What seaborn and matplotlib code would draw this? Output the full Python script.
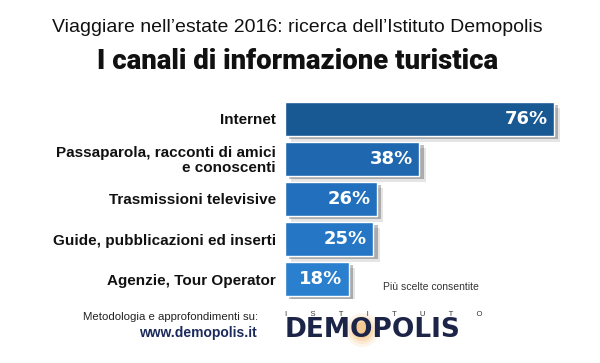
import matplotlib
matplotlib.use('Agg')
import matplotlib.pyplot as plt
import matplotlib.patheffects as pe
from matplotlib.patches import Ellipse
from matplotlib.transforms import IdentityTransform
import seaborn as sns
import pandas as pd

categories = ["Internet",
              "Passaparola, racconti di amici\ne conoscenti",
              "Trasmissioni televisive",
              "Guide, pubblicazioni ed inserti",
              "Agenzie, Tour Operator"]
values = [76, 38, 26, 25, 18]
value_labels = ["76%", "38%", "26%", "25%", "18%"]
bar_colors = ["#185893", "#1f68b0", "#2270bd", "#2577c6", "#2a7fcf"]

subtitle = "Viaggiare nell\u2019estate 2016: ricerca dell\u2019Istituto Demopolis"
title = "I canali di informazione turistica"
note = "Più scelte consentite"
footer1 = "Metodologia e approfondimenti su:"
footer2 = "www.demopolis.it"
logo_small = "I           S           T           I           T           U           T           O"
logo_big = "DEMOPOLIS"

sns.set_theme(style="white")
plt.rcParams['font.family'] = ['Liberation Sans', 'DejaVu Sans']

W, H = 600, 363
fig = plt.figure(figsize=(6, 3.63), dpi=100)
fig.patch.set_facecolor('white')
ax = fig.add_axes([285 / W, 1 - 299 / H, 283 / W, 200 / H])

df = pd.DataFrame({"cat": categories, "val": values})
sns.barplot(data=df, x="val", y="cat", hue="cat", palette=bar_colors,
            legend=False, width=0.85, saturation=1, ax=ax)
ax.set_xlim(0, 80)
ax.set_ylim(4.5, -0.5)
for s in ax.spines.values():
    s.set_visible(False)
ax.set_xticks([])
ax.set_xlabel("")
ax.set_ylabel("")
ax.tick_params(axis='y', length=0, pad=6.5)
for t in ax.get_yticklabels():
    t.set_fontweight('bold')
    t.set_fontsize(11)
    t.set_color('#111111')
    t.set_linespacing(1.0)

for p in ax.patches:
    p.set_path_effects([
        pe.SimplePatchShadow(offset=(4.5, -4), shadow_rgbFace='#000000', alpha=0.10),
        pe.SimplePatchShadow(offset=(3, -2.5), shadow_rgbFace='#000000', alpha=0.25),
        pe.Normal()])

for i, (v, lbl) in enumerate(zip(values, value_labels)):
    ax.annotate(lbl, xy=(v, i), xytext=(-4.5, 0), textcoords='offset points',
                ha='right', va='center', color='white', fontweight='heavy',
                fontsize=13, family='DejaVu Sans')

fig.text(297 / W, 1 - 32 / H, subtitle, ha='center', va='baseline',
         fontsize=14, color='#111111')
fig.text(298 / W, 1 - 69 / H, title, ha='center', va='baseline',
         fontsize=19.8, fontweight='black', family=['Roboto', 'DejaVu Sans'],
         color='#111111')
fig.text(383 / W, 1 - 287 / H, note, ha='left', va='center',
         fontsize=7.5, color='#333333')
fig.text(258 / W, 1 - 317 / H, footer1, ha='right', va='center',
         fontsize=8.2, color='#222222')
fig.text(257 / W, 1 - 333 / H, footer2, ha='right', va='center',
         fontsize=10, fontweight='bold', color='#1c2a5c')

fig.text(285 / W, 1 - 315 / H, logo_small, ha='left', va='center',
         fontsize=5.5, color='#333333')
big = fig.text(285 / W, 1 - 330 / H, logo_big, ha='left', va='center',
               fontsize=19, fontweight='bold', family='DejaVu Sans',
               color='#1c2447', zorder=5)

fig.canvas.draw()
bb = big.get_window_extent()
ox = bb.x0 + 0.44 * bb.width
oy = (bb.y0 + bb.y1) / 2
for r, a in [(17, 0.10), (14, 0.14), (11, 0.2), (8, 0.3)]:
    fig.patches.append(Ellipse((ox, oy), 2 * r, 2 * r, transform=IdentityTransform(),
                               facecolor='#f0a040', edgecolor='none', alpha=a, zorder=1))

fig.savefig('out.png', dpi=100, facecolor='white')
